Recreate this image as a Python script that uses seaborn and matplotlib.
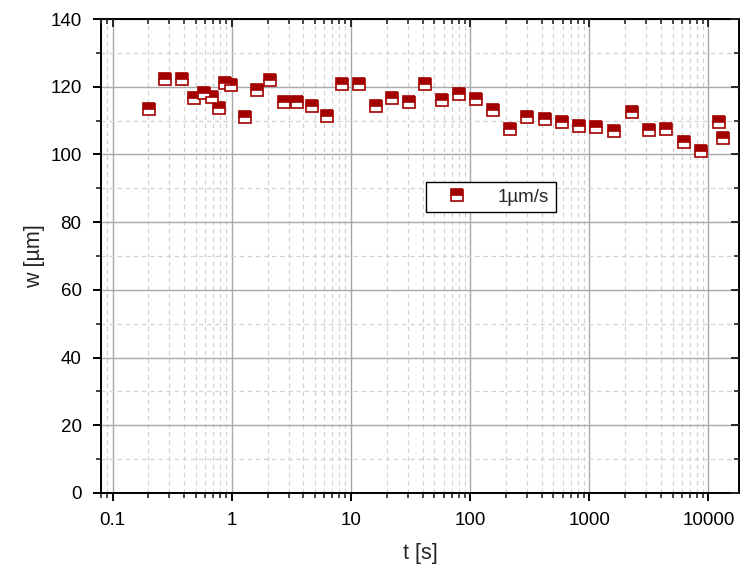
import numpy as np
import pandas as pd
import matplotlib
matplotlib.use("Agg")
import matplotlib.pyplot as plt
import matplotlib.ticker as mticker
import seaborn as sns

t_s = [0.203, 0.275, 0.385, 0.485, 0.585, 0.683, 0.78, 0.88, 0.98, 1.28,
       1.62, 2.1, 2.75, 3.56, 4.73, 6.3, 8.43, 11.7, 16.1, 22.1,
       30.5, 42.2, 58.1, 80.7, 111, 156, 215, 302, 422, 589,
       818, 1145, 1608, 2265, 3165, 4420, 6210, 8690, 12140, 13360]
w_um = [113.3, 122.2, 122.2, 116.6, 118.0, 116.9, 113.6, 121.0, 120.5, 111.1,
        119.0, 122.0, 115.6, 115.6, 114.4, 111.3, 120.8, 120.7, 114.3, 116.7,
        115.6, 120.8, 116.0, 117.8, 116.3, 113.1, 107.4, 111.1, 110.5, 109.5,
        108.5, 108.0, 106.8, 112.4, 107.2, 107.5, 103.8, 101.0, 109.7, 104.9]
series_label = "1µm/s"

sns.set_style("white")
plt.rcParams["font.family"] = ["Liberation Sans", "DejaVu Sans"]

fig = plt.figure(figsize=(7.4, 5.69), dpi=100)
ax = fig.add_axes([0.1365, 0.1336, 0.862, 0.833])

df = pd.DataFrame({"t": t_s, "w": w_um})
red = "#a30000"
sns.lineplot(data=df, x="t", y="w", ax=ax, marker="s", linestyle="",
             color=red, markersize=9, markeredgewidth=1.2,
             markeredgecolor=red, fillstyle="top",
             markerfacecoloralt="white", label=series_label, zorder=5)

ax.set_xscale("log")
ax.set_xlim(0.08, 18000)
ax.set_ylim(0, 140)

# grid: solid major, dashed minor
ax.xaxis.set_major_locator(mticker.LogLocator(base=10, numticks=10))
ax.xaxis.set_minor_locator(mticker.LogLocator(base=10, subs=np.arange(2, 10), numticks=10))
ax.xaxis.set_major_formatter(mticker.FuncFormatter(lambda v, p: f"{v:g}"))
ax.xaxis.set_minor_formatter(mticker.NullFormatter())
ax.yaxis.set_major_locator(mticker.MultipleLocator(20))
ax.yaxis.set_minor_locator(mticker.MultipleLocator(10))
ax.grid(True, which="major", color="#a8a8a8", linewidth=1.0, linestyle="-")
ax.grid(True, which="minor", color="#d2d2d2", linewidth=0.9, linestyle=(0, (3.5, 3)))
ax.set_axisbelow(True)

for sp in ax.spines.values():
    sp.set_color("black")
    sp.set_linewidth(1.4)

ax.tick_params(axis="both", which="major", direction="out", length=6, width=1.4,
               labelsize=13.5, colors="black", pad=8, bottom=True, left=True)
ax.tick_params(axis="both", which="minor", direction="out", length=3.5, width=1.2,
               bottom=True, left=True)

# inward ticks on the top and right frame
ax2 = ax.twinx()
ax2.set_ylim(ax.get_ylim())
ax2.yaxis.set_major_locator(mticker.MultipleLocator(20))
ax2.yaxis.set_minor_locator(mticker.MultipleLocator(10))
ax2.tick_params(axis="y", which="major", direction="in", length=6, width=1.4, labelright=False)
ax2.tick_params(axis="y", which="minor", direction="in", length=3.5, width=1.2)
ax3 = ax.twiny()
ax3.set_xscale("log")
ax3.set_xlim(ax.get_xlim())
ax3.xaxis.set_major_locator(mticker.LogLocator(base=10, numticks=10))
ax3.xaxis.set_minor_locator(mticker.LogLocator(base=10, subs=np.arange(2, 10), numticks=10))
ax3.tick_params(axis="x", which="major", direction="in", length=6, width=1.4, labeltop=False)
ax3.tick_params(axis="x", which="minor", direction="in", length=3.5, width=1.2)
for a in (ax2, ax3):
    a.grid(False)
    for sp in a.spines.values():
        sp.set_visible(False)

ax.set_xlabel("t [s]", fontsize=15.5, labelpad=10)
ax.set_ylabel("w [µm]", fontsize=15.5, labelpad=4)

leg = ax.legend(loc="upper left", bbox_to_anchor=(0.509, 0.656), fontsize=13.5,
                frameon=True, fancybox=False, edgecolor="black", framealpha=1,
                borderpad=0.35, handlelength=2.6, handletextpad=0.9,
                borderaxespad=0)
leg.get_frame().set_linewidth(1.0)

fig.savefig("out.png", dpi=100)
